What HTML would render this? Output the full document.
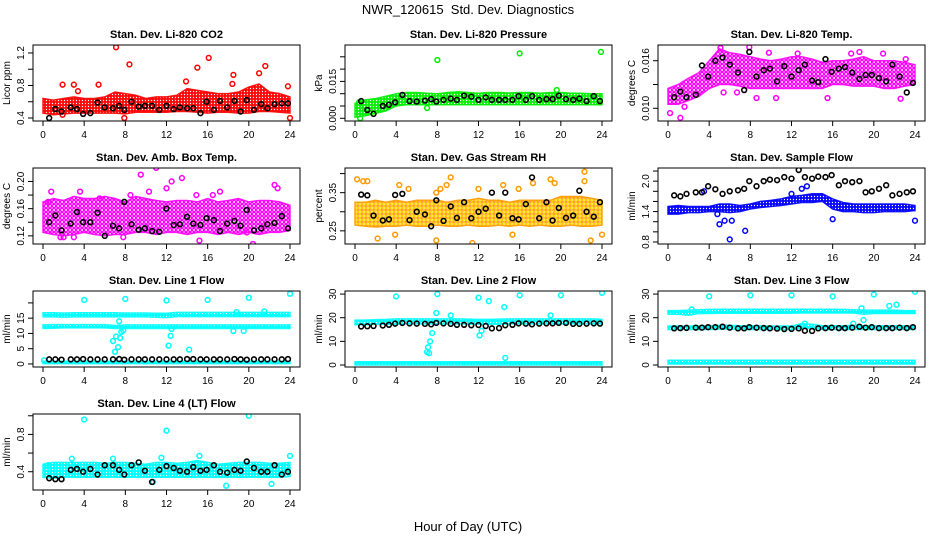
<!DOCTYPE html>
<html><head><meta charset="utf-8"><style>
html,body{margin:0;padding:0;background:#fff;}
svg{display:block;font-family:"Liberation Sans",Arial,sans-serif;}
</style></head><body>
<svg id="c" width="936" height="540" viewBox="0 0 936 540">
<defs>
<pattern id="p-red" width="3" height="3" patternUnits="userSpaceOnUse"><circle cx="1.5" cy="1.5" r="1.3" fill="none" stroke="#ff0000" stroke-width="1.2"/></pattern>
<pattern id="p-green" width="3" height="3" patternUnits="userSpaceOnUse"><circle cx="1.5" cy="1.5" r="1.3" fill="none" stroke="#00ee00" stroke-width="1.2"/></pattern>
<pattern id="p-magenta" width="4" height="4" patternUnits="userSpaceOnUse"><circle cx="2" cy="2" r="1.6" fill="none" stroke="#ff00ff" stroke-width="1.3"/></pattern>
<pattern id="p-orange" width="4" height="4" patternUnits="userSpaceOnUse"><circle cx="2" cy="2" r="1.6" fill="none" stroke="#ffcc00" stroke-width="1.3"/><circle cx="2" cy="2" r="0.7" fill="#ff2200"/></pattern>
<pattern id="p-blue" width="3" height="3" patternUnits="userSpaceOnUse"><circle cx="1.5" cy="1.5" r="1.3" fill="none" stroke="#0000ff" stroke-width="1.2"/></pattern>
<pattern id="p-cyan" width="3" height="3" patternUnits="userSpaceOnUse"><circle cx="1.5" cy="1.5" r="1.3" fill="none" stroke="#00ffff" stroke-width="1.3"/></pattern>
</defs>
<text x="468" y="14" text-anchor="middle" font-size="13" xml:space="preserve">NWR_120615  Std. Dev. Diagnostics</text>
<text x="468" y="531" text-anchor="middle" font-size="13">Hour of Day (UTC)</text>
</svg>
<script>
const xTicks = [0,4,8,12,16,20,24];
const bandHours = [0,1,2,3,4,5,6,7,8,9,10,11,12,13,14,15,16,17,18,19,20,21,22,23,24];
const blackHours = [0.6,1.2,1.8,2.7,3.3,3.9,4.6,5.3,6.0,6.8,7.4,7.9,8.6,9.3,9.9,10.6,11.3,12.0,12.7,13.3,14.0,14.6,15.3,15.9,16.6,17.2,17.9,18.6,19.2,19.8,20.5,21.2,21.8,22.5,23.2,23.8];

// Panel 1: CO2
const co2Lo = [0.46,0.44,0.45,0.46,0.46,0.46,0.46,0.46,0.45,0.47,0.47,0.47,0.47,0.48,0.48,0.47,0.46,0.47,0.47,0.46,0.46,0.48,0.48,0.47,0.46];
const co2Hi = [0.64,0.62,0.64,0.66,0.64,0.64,0.66,0.72,0.70,0.68,0.64,0.66,0.66,0.68,0.76,0.74,0.72,0.70,0.70,0.72,0.78,0.82,0.72,0.70,0.66];
const co2OutH = [1.9,3.0,5.4,7.1,8.4,15.0,16.1,18.5,21.0,21.6,23.8,24.0,7.9,1.9,3.4,13.9,18.4];
const co2OutV = [0.81,0.81,0.81,1.27,1.06,1.02,1.14,0.93,0.95,1.04,0.79,0.40,0.40,0.44,0.73,0.85,0.82];
const co2Black = [0.40,0.51,0.48,0.53,0.51,0.45,0.46,0.59,0.53,0.52,0.55,0.50,0.60,0.54,0.55,0.55,0.50,0.55,0.51,0.53,0.52,0.52,0.46,0.60,0.50,0.61,0.53,0.61,0.48,0.62,0.50,0.57,0.52,0.57,0.58,0.58];
const co2Ticks = [0.4,0.6,0.8,1.0,1.2];
const co2Labels = ["0.4","","0.8","","1.2"];

// Panel 2: Pressure
const prLo = [0.0005,0.001,0.002,0.003,0.005,0.0055,0.0055,0.0055,0.0055,0.0055,0.0055,0.0055,0.0055,0.0055,0.0055,0.0055,0.0055,0.0055,0.0055,0.0055,0.0055,0.0055,0.0055,0.0055,0.0055];
const prHi = [0.006,0.0075,0.008,0.009,0.010,0.0105,0.0105,0.0102,0.0100,0.0105,0.0108,0.0105,0.0102,0.0105,0.0105,0.0103,0.0105,0.0105,0.0102,0.0105,0.0105,0.0102,0.0102,0.0100,0.0100];
const prOutH = [8,16,23.9,0.4,0.5,7,19.6];
const prOutV = [0.0237,0.0264,0.027,0.0065,0.0,0.0042,0.0115];
const prBlack = [0.0070,0.0034,0.0018,0.0050,0.0055,0.0065,0.0095,0.0070,0.0068,0.0072,0.0078,0.0068,0.0075,0.0080,0.0075,0.0092,0.0088,0.0075,0.0085,0.0075,0.0075,0.0075,0.0075,0.0090,0.0075,0.0090,0.0075,0.0078,0.0078,0.0092,0.0078,0.0075,0.0080,0.0070,0.0090,0.0070];
const prTicks = [0,0.005,0.010,0.015,0.020,0.025];
const prLabels = ["0.000","","","0.015","",""];

// Panel 3: Li-820 Temp
const tLo = [0.0105,0.0105,0.011,0.0115,0.0125,0.013,0.013,0.0128,0.0125,0.0125,0.0125,0.0125,0.0125,0.0125,0.0125,0.0125,0.013,0.013,0.0128,0.0128,0.0128,0.0125,0.0125,0.0128,0.013];
const tHi = [0.0125,0.013,0.0138,0.0145,0.016,0.0175,0.017,0.0168,0.0165,0.0162,0.016,0.0162,0.0165,0.0165,0.0162,0.0158,0.016,0.016,0.0162,0.0165,0.016,0.016,0.016,0.0158,0.0155];
const tOutH = [0.2,1.2,1.6,8.6,10.5,15.5,5.1,7.9,17.8,18.6,20.9,23.1,6.7,5.4,22.6,12.6,9.8];
const tOutV = [0.0094,0.0088,0.0102,0.0113,0.0113,0.0113,0.0176,0.0177,0.0169,0.0171,0.0169,0.0162,0.0120,0.0120,0.0112,0.0169,0.0170];
const tBlack = [0.0114,0.0121,0.0114,0.0117,0.0154,0.0140,0.0160,0.0164,0.0155,0.0145,0.0123,0.0171,0.0140,0.0148,0.0150,0.0134,0.0153,0.0140,0.0148,0.0155,0.0135,0.0133,0.0162,0.0146,0.0150,0.0152,0.0145,0.0137,0.0142,0.0142,0.0138,0.0134,0.0155,0.0140,0.0120,0.0132];
const tTicks = [0.010,0.013,0.016];
const tLabels = ["0.010","","0.016"];

// Panel 4: Amb box temp
const abLo = [0.125,0.122,0.120,0.122,0.125,0.122,0.120,0.122,0.122,0.125,0.125,0.122,0.125,0.125,0.122,0.125,0.125,0.122,0.125,0.122,0.125,0.122,0.125,0.125,0.128];
const abHi = [0.170,0.175,0.172,0.178,0.175,0.175,0.178,0.175,0.170,0.178,0.175,0.172,0.170,0.172,0.172,0.170,0.175,0.170,0.172,0.175,0.170,0.172,0.172,0.170,0.165];
const abOutH = [0.5,0.8,3.6,9.5,11.0,12.5,13.5,21.2,22.5,22.8,2.0,1.7,7.8,15.2,20.4,19.8,17.2,14.9,8.5,5.5,12,16.5,3.0,10.3];
const abOutV = [0.17,0.185,0.185,0.21,0.22,0.20,0.205,0.225,0.195,0.19,0.118,0.118,0.118,0.113,0.108,0.125,0.185,0.18,0.18,0.175,0.19,0.18,0.118,0.185];
const abBlack = [0.140,0.150,0.128,0.138,0.155,0.140,0.140,0.154,0.120,0.135,0.131,0.170,0.137,0.129,0.131,0.127,0.126,0.160,0.136,0.137,0.148,0.138,0.136,0.146,0.143,0.127,0.138,0.142,0.135,0.158,0.128,0.131,0.137,0.139,0.149,0.131];
const abTicks = [0.12,0.14,0.16,0.18,0.20];
const abLabels = ["0.12","","0.16","","0.20"];

// Panel 5: Gas stream RH
const rhLo = [0.265,0.262,0.260,0.262,0.262,0.265,0.262,0.262,0.265,0.262,0.262,0.265,0.262,0.262,0.265,0.262,0.265,0.262,0.265,0.262,0.262,0.265,0.262,0.262,0.265];
const rhHi = [0.325,0.325,0.330,0.325,0.330,0.325,0.330,0.330,0.330,0.325,0.330,0.330,0.335,0.330,0.330,0.325,0.330,0.330,0.330,0.330,0.340,0.340,0.340,0.335,0.330];
const rhOutH = [0.2,0.8,1.2,4.3,7.9,8.3,8.9,9.3,2.2,3.9,7.9,11.4,14.4,15.9,17.3,19.0,19.4,22.3,22.3,22.9,24,15.3,5.2,12];
const rhOutV = [0.385,0.38,0.38,0.37,0.35,0.36,0.37,0.39,0.23,0.24,0.225,0.218,0.37,0.36,0.375,0.385,0.375,0.405,0.38,0.225,0.24,0.24,0.36,0.36];
const rhBlack = [0.345,0.343,0.290,0.277,0.280,0.344,0.347,0.278,0.300,0.293,0.262,0.330,0.276,0.314,0.284,0.325,0.283,0.300,0.308,0.350,0.290,0.350,0.283,0.280,0.320,0.390,0.283,0.325,0.277,0.310,0.284,0.290,0.355,0.300,0.287,0.325];
const rhTicks = [0.25,0.30,0.35,0.40];
const rhLabels = ["0.25","","0.35",""];

// Panel 6: Sample flow
const sfLo = [1.35,1.35,1.38,1.38,1.40,1.40,1.38,1.40,1.45,1.48,1.50,1.52,1.55,1.58,1.58,1.60,1.45,1.40,1.40,1.38,1.38,1.40,1.40,1.40,1.42];
const sfHi = [1.50,1.52,1.50,1.50,1.50,1.55,1.55,1.52,1.55,1.60,1.62,1.65,1.70,1.72,1.75,1.75,1.65,1.58,1.55,1.55,1.55,1.55,1.55,1.55,1.52];
const sfOutH = [5.0,5.5,6.0,7.5,6.2,12,13,16,24,3.5,13.5,4.8];
const sfOutV = [1.15,1.22,0.85,1.02,1.22,1.75,1.85,1.25,1.22,1.80,1.90,1.35];
const sfBlack = [1.72,1.70,1.75,1.78,1.78,1.90,1.84,1.75,1.80,1.82,1.85,2.00,1.90,2.00,2.03,2.02,2.08,2.05,2.22,2.08,2.05,2.09,2.08,2.12,1.92,2.00,1.98,2.00,1.78,1.80,1.85,1.92,1.72,1.75,1.78,1.80];
const sfTicks = [0.8,1.0,1.2,1.4,1.6,1.8,2.0,2.2];
const sfLabels = ["0.8","","","1.4","","","2.0",""];

// Panel 7: Line 1 flow
const l1UpLo = [15.4,15.4,15.3,15.4,15.4,15.4,15.4,15.4,15.4,15.4,15.4,15.3,15.2,15.5,15.5,15.5,15.5,15.5,15.5,15.5,15.5,15.5,15.5,15.5,15.5];
const l1UpHi = [16.8,16.8,16.7,16.8,16.8,16.8,16.8,16.8,16.7,16.7,16.7,16.6,16.6,16.9,16.9,16.9,16.9,16.9,16.9,16.9,16.9,16.9,16.9,16.9,16.9];
const l1MidLo = [11.6,11.7,11.8,11.8,11.8,11.8,11.8,11.6,11.6,11.6,11.6,11.6,11.6,11.6,11.6,11.6,11.6,11.6,11.6,11.6,11.6,11.6,11.6,11.6,11.6];
const l1MidHi = [12.8,12.9,12.9,12.9,12.9,12.9,12.9,12.6,12.8,12.8,12.8,12.8,12.8,12.8,12.8,12.8,12.8,12.8,12.8,12.8,12.8,12.8,12.8,12.8,12.8];
const l1LowLo = [0.1,0.1,0.1,0.1,0.1,0.1,0.1,0.1,0.1,0.1,0.1,0.1,0.1,0.1,0.1,0.1,0.1,0.1,0.1,0.1,0.1,0.1,0.1,0.1,0.1];
const l1LowHi = [0.9,0.9,0.9,0.9,0.9,0.9,0.9,0.9,0.9,0.9,0.9,0.9,0.9,0.9,0.9,0.9,0.9,0.9,0.9,0.9,0.9,0.9,0.9,0.9,0.9];
const l1OutH = [6.8,7.0,7.1,7.3,7.5,7.6,7.8,12.2,12.4,12.5,14.2,4,8,12,16,20,24,18.8,21.5,18.5,19.5,0.1,7.4];
const l1OutV = [7.5,4,9,5.5,8.5,10.5,11,6,9.2,11.5,4.7,21,21.3,20.8,21,21.7,23,17,17.2,10.8,10.8,1.2,14];
const l1Black = [1.5,1.5,1.4,1.5,1.5,1.6,1.5,1.5,1.5,1.5,1.6,1.4,1.5,1.5,1.5,1.5,1.5,1.5,1.5,1.5,1.6,1.6,1.5,1.5,1.5,1.5,1.5,1.6,1.5,1.4,1.5,1.5,1.5,1.5,1.5,1.6];
const l1Ticks = [0,5,10,15,20];
const l1Labels = ["0","5","10","15",""];

// Panel 8: Line 2 flow
const l2UpLo = [17.0,17.0,17.2,17.2,17.3,17.4,17.4,17.4,17.4,17.4,17.4,17.3,17.2,17.2,17.3,17.4,17.4,17.4,17.4,17.4,17.4,17.4,17.4,17.4,17.4];
const l2UpHi = [19.0,19.0,19.2,19.3,19.5,19.5,19.5,19.5,19.5,19.5,19.5,19.4,19.3,19.3,19.4,19.5,19.5,19.5,19.5,19.5,19.5,19.5,19.5,19.5,19.3];
const l2LowLo = [0,0,0,0,0,0,0,0,0,0,0,0,0,0,0,0,0,0,0,0,0,0,0,0,0];
const l2LowHi = [1.4,1.4,1.4,1.4,1.4,1.4,1.4,1.4,1.4,1.4,1.4,1.4,1.4,1.4,1.4,1.4,1.4,1.4,1.4,1.4,1.4,1.4,1.4,1.4,1.4];
const l2OutH = [4,8,12,13,14.5,16,20,24,7.9,7.5,7.3,7.1,7.0,7.2,12.1,12.3,14.6,9.3,19];
const l2OutV = [29,30,28.5,27,24.5,29.5,29.5,30.5,22,13.5,10,7.5,5.5,5,12.5,14.5,3,21,21];
const l2Black = [16.3,16.4,16.5,16.7,17.0,17.5,17.8,17.6,17.5,17.4,17.2,17.8,17.6,17.4,17.0,17.0,16.8,16.9,16.5,15.5,15.6,16.8,17.0,17.6,17.5,17.2,17.5,17.6,17.6,17.8,17.8,17.4,17.4,17.5,17.6,17.5];
const l2Ticks = [0,10,20,30];
const l2Labels = ["0","10","20","30"];

// Panel 9: Line 3 flow
const l3UpLo = [21.5,21.5,21.0,21.8,21.8,21.9,21.9,21.9,21.9,21.9,21.9,21.9,21.9,22.0,22.0,22.0,22.0,22.0,22.0,21.5,21.8,21.8,21.8,21.8,21.8];
const l3UpHi = [23.0,23.0,23.2,23.4,23.5,23.6,23.6,23.6,23.6,23.6,23.6,23.6,23.6,23.6,23.6,23.6,23.6,23.5,23.4,23.2,23.2,23.2,23.2,23.0,23.0];
const l3MidLo = [15.0,15.0,15.0,15.0,15.0,15.2,15.2,15.0,15.0,15.0,15.0,15.0,15.0,15.5,15.5,15.0,15.0,15.0,15.0,15.0,15.0,15.0,15.0,15.0,15.0];
const l3MidHi = [16.5,16.5,16.5,16.5,16.6,16.8,16.8,16.6,16.6,16.6,16.5,16.5,16.5,17.5,17.2,16.6,16.6,16.6,16.8,16.6,16.6,16.6,16.6,16.6,16.6];
const l3LowLo = [0.4,0.4,0.4,0.4,0.4,0.4,0.4,0.4,0.4,0.4,0.4,0.4,0.4,0.4,0.4,0.4,0.4,0.4,0.4,0.4,0.4,0.4,0.4,0.4,0.4];
const l3LowHi = [2.0,2.0,2.0,2.0,2.0,2.0,2.0,2.0,2.0,2.0,2.0,2.0,2.0,2.0,2.0,2.0,2.0,2.0,2.0,2.0,2.0,2.0,2.0,2.0,2.0];
const l3OutH = [4,8,12,16,20,24,18.8,19,21.5,22.2,2.3,13.3,18.0];
const l3OutV = [29,29.5,29.5,29,29.8,31,24,19,25,25.5,23.5,17.5,17.5];
const l3Black = [15.5,15.6,15.7,15.8,15.8,16.0,16.0,16.2,15.8,15.5,15.5,16.0,15.8,15.6,15.5,15.4,15.2,15.3,15.5,14.5,14.4,15.5,15.6,15.8,15.6,15.6,15.8,16.2,15.8,16.0,15.6,15.6,15.6,15.8,15.6,16.0];
const l3Ticks = [0,10,20,30];
const l3Labels = ["0","10","20","30"];

// Panel 10: Line 4 (LT) flow
const l4Lo = [0.34,0.33,0.34,0.34,0.34,0.34,0.34,0.34,0.34,0.34,0.34,0.34,0.34,0.34,0.34,0.34,0.34,0.34,0.34,0.34,0.34,0.34,0.34,0.34,0.35];
const l4Hi = [0.48,0.50,0.50,0.50,0.50,0.50,0.49,0.50,0.50,0.49,0.48,0.50,0.50,0.49,0.50,0.52,0.50,0.48,0.49,0.50,0.50,0.50,0.49,0.49,0.50];
const l4OutH = [4,12,20,17.8,22.2,24,10.7,0.5,2.8,15.2,6.8,11.5];
const l4OutV = [0.96,0.84,1.0,0.25,0.27,0.57,0.29,0.47,0.54,0.57,0.54,0.55];
const l4Black = [0.33,0.32,0.32,0.42,0.43,0.40,0.43,0.37,0.47,0.47,0.42,0.37,0.47,0.50,0.41,0.29,0.42,0.46,0.44,0.41,0.40,0.45,0.41,0.42,0.47,0.40,0.39,0.42,0.41,0.51,0.44,0.40,0.40,0.47,0.37,0.40];
const l4Ticks = [0.4,0.6,0.8,1.0];
const l4Labels = ["0.4","","0.8",""];

const NS = "http://www.w3.org/2000/svg";
const svg = document.getElementById("c");
function mk(tag, attrs, parent) {
  const e = document.createElementNS(NS, tag);
  for (const k in attrs) e.setAttribute(k, attrs[k]);
  parent.appendChild(e);
  return e;
}
const colLeft = [33, 345, 658];
const rowTop = [45, 168, 291, 414];
const W = 267, H = 76;

function panel(key, col, row, title, ylab, ymin, ymax, ticks, labels, bands, pat, color, outH, outV, black) {
  const L = colLeft[col], T = rowTop[row];
  const g = mk("g", {}, svg);
  
  
  const xs = h => L + 10 + h / 24 * (W - 20);
  const ys = v => T + H - (v - ymin) / (ymax - ymin) * H;
  const clipId = "clip-" + key;
  const cp = mk("clipPath", {id: clipId}, g);
  mk("rect", {x: L, y: T, width: W, height: H}, cp);
  const plot = mk("g", {"clip-path": "url(#" + clipId + ")"}, g);
  
  
  bands.forEach((b, bi) => {
    const lo = b[0], hi = b[1];
    let d = "";
    bandHours.forEach((h, i) => { d += (i ? "L" : "M") + xs(h).toFixed(1) + "," + ys(hi[i]).toFixed(1); });
    for (let i = bandHours.length - 1; i >= 0; i--) d += "L" + xs(bandHours[i]).toFixed(1) + "," + ys(lo[i]).toFixed(1);
    d += "Z";
    const p = mk("path", {d: d, fill: "url(#" + pat + ")", stroke: color, "stroke-width": 1.5, "stroke-opacity": 0.9}, plot);
    
    
  });
  outH.forEach((h, i) => {
    const c = mk("circle", {cx: xs(h), cy: ys(outV[i]), r: 2.4, fill: "none", stroke: color, "stroke-width": 1.5}, plot);
    
    
  });
  blackHours.forEach((h, i) => {
    const c = mk("circle", {cx: xs(h), cy: ys(black[i]), r: 2.4, fill: "none", stroke: "#000", "stroke-width": 1.6}, plot);
    
    
  });
  const box = mk("rect", {x: L, y: T, width: W, height: H, fill: "none", stroke: "#000", "stroke-width": 1}, g);
  
  
  xTicks.forEach(t => {
    mk("line", {x1: xs(t), x2: xs(t), y1: T + H, y2: T + H + 5, stroke: "#000"}, g);
    const tx = mk("text", {x: xs(t), y: T + H + 17, "text-anchor": "middle", "font-size": 10}, g);
    tx.textContent = t;
    
    
  });
  mk("line", {x1: xs(0), x2: xs(24), y1: T + H, y2: T + H, stroke: "#000"}, g);
  ticks.forEach((t, i) => {
    const y = ys(t);
    mk("line", {x1: L - 5, x2: L, y1: y, y2: y, stroke: "#000"}, g);
    if (labels[i]) {
      const tx = mk("text", {x: 0, y: 0, "text-anchor": "middle", "font-size": 10, transform: "translate(" + (L - 9) + "," + y + ") rotate(-90)"}, g);
      tx.textContent = labels[i];
      
      
    }
  });
  const tt = mk("text", {x: L + W / 2, y: T - 7, "text-anchor": "middle", "font-size": 11, "font-weight": "bold"}, g);
  tt.textContent = title;
  
  
  const yl = mk("text", {x: 0, y: 0, "text-anchor": "middle", "font-size": 10, transform: "translate(" + (L - 23) + "," + (T + H / 2) + ") rotate(-90)"}, g);
  yl.textContent = ylab;
  
  
}

panel("co2", 0, 0, "Stan. Dev. Li-820 CO2", "Licor ppm", 0.363, 1.298, co2Ticks, co2Labels, [[co2Lo, co2Hi]], "p-red", "#ff0000", co2OutH, co2OutV, co2Black);
panel("pressure", 1, 0, "Stan. Dev. Li-820 Pressure", "kPa", -0.0011, 0.0298, prTicks, prLabels, [[prLo, prHi]], "p-green", "#00ee00", prOutH, prOutV, prBlack);
panel("li820-temp", 2, 0, "Stan. Dev. Li-820 Temp.", "degrees C", 0.0084, 0.01798, tTicks, tLabels, [[tLo, tHi]], "p-magenta", "#ff00ff", tOutH, tOutV, tBlack);
panel("amb-box-temp", 0, 1, "Stan. Dev. Amb. Box Temp.", "degrees C", 0.108, 0.2198, abTicks, abLabels, [[abLo, abHi]], "p-magenta", "#ff00ff", abOutH, abOutV, abBlack);
panel("gas-rh", 1, 1, "Stan. Dev. Gas Stream RH", "percent", 0.2155, 0.4146, rhTicks, rhLabels, [[rhLo, rhHi]], "p-orange", "#ff9900", rhOutH, rhOutV, rhBlack);
panel("sample-flow", 2, 1, "Stan. Dev. Sample Flow", "ml/min", 0.76, 2.26, sfTicks, sfLabels, [[sfLo, sfHi]], "p-blue", "#0000ff", sfOutH, sfOutV, sfBlack);
panel("line1-flow", 0, 2, "Stan. Dev. Line 1 Flow", "ml/min", -1.0, 23.9, l1Ticks, l1Labels, [[l1UpLo, l1UpHi], [l1MidLo, l1MidHi], [l1LowLo, l1LowHi]], "p-cyan", "#00ffff", l1OutH, l1OutV, l1Black);
panel("line2-flow", 1, 2, "Stan. Dev. Line 2 Flow", "ml/min", -0.85, 31.3, l2Ticks, l2Labels, [[l2UpLo, l2UpHi], [l2LowLo, l2LowHi]], "p-cyan", "#00ffff", l2OutH, l2OutV, l2Black);
panel("line3-flow", 2, 2, "Stan. Dev. Line 3 Flow", "ml/min", -0.85, 31.3, l3Ticks, l3Labels, [[l3UpLo, l3UpHi], [l3MidLo, l3MidHi], [l3LowLo, l3LowHi]], "p-cyan", "#00ffff", l3OutH, l3OutV, l3Black);
panel("line4-flow", 0, 3, "Stan. Dev. Line 4 (LT) Flow", "ml/min", 0.204, 1.019, l4Ticks, l4Labels, [[l4Lo, l4Hi]], "p-cyan", "#00ffff", l4OutH, l4OutV, l4Black);
</script>
</body></html>
